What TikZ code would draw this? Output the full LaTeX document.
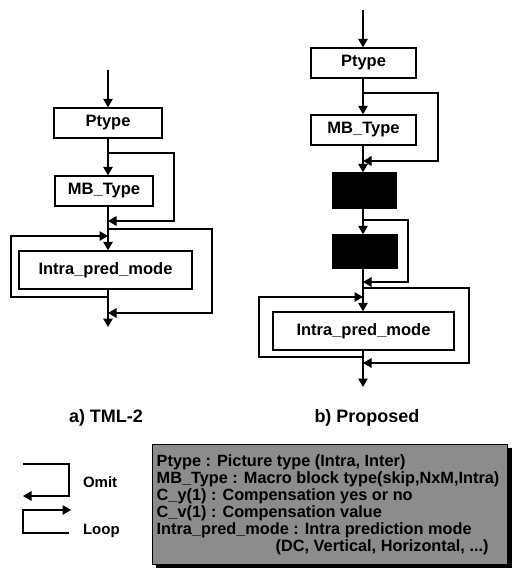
\documentclass[tikz,border=0pt]{standalone}
\usepackage{fontspec}
\setmainfont{Liberation Sans}
\usetikzlibrary{arrows.meta}
\begin{document}
\begin{tikzpicture}[x=1pt,y=-1pt,
  line width=1.4pt,
  arr/.style={-{Triangle[length=8.5pt,width=9.5pt]}},
  blk/.style={draw, line width=1.4pt, inner sep=0pt, font=\bfseries\fontsize{16.5}{18}\selectfont},
  dark/.style={blk, fill=black},
  captxt/.style={font=\bfseries\fontsize{18}{20}\selectfont},
  leg/.style={font=\bfseries\fontsize{15}{17}\selectfont, anchor=west},
  ltxt/.style={font=\bfseries\fontsize{16.3}{17}\selectfont, anchor=west, inner sep=0pt}
]
\useasboundingbox (0,0) rectangle (513,568);

% ---------------- a) TML-2 ----------------
\node[blk, minimum width=108, minimum height=30] (aP) at (108,123) {Ptype};
\node[blk, minimum width=98, minimum height=30] (aM) at (104,191) {MB\_Type};
\node[blk, minimum width=173, minimum height=38] (aI) at (105.5,270) {Intra\_pred\_mode};

\coordinate (aTop) at (108,70);
\coordinate (aBot) at (108,327);
\draw[arr] (aTop) -- (aTop |- aP.north);
\draw[arr] (aTop |- aP.south) -- (aTop |- aM.north);
\draw[arr] (aTop |- aM.south) -- (aTop |- aI.north);
\draw[arr] (aTop |- aI.south) -- (aBot);

% omit around MB_Type
\coordinate (ao1s) at (108,153);
\coordinate (ao1r) at (174,153);
\coordinate (ao1e) at (108,221);
\draw[arr] (ao1s) -- (ao1r) |- (ao1e);
% omit around Intra_pred_mode
\coordinate (ao2s) at (108,229);
\coordinate (ao2r) at (212,229);
\coordinate (ao2e) at (108,313);
\draw[arr] (ao2s) -- (ao2r) |- (ao2e);
% loop around Intra_pred_mode
\coordinate (als) at (108,297);
\coordinate (all) at (11,297);
\coordinate (ale) at (108,236);
\draw[arr] (als) -- (all) |- (ale);

\node[captxt] (capA) at (106,418) {a) TML-2};

% ---------------- b) Proposed ----------------
\node[blk, minimum width=105, minimum height=30] (bP) at (363.5,63) {Ptype};
\node[blk, minimum width=105, minimum height=30] (bM) at (363.5,130) {MB\_Type};
\node[dark, minimum width=63, minimum height=35] (bC1) at (364.5,190.5) {};
\node[dark, minimum width=64, minimum height=33] (bC2) at (365,251.5) {};
\node[blk, minimum width=181, minimum height=38] (bI) at (363.5,331) {Intra\_pred\_mode};

\coordinate (bTop) at (363,10);
\coordinate (bBot) at (363,387);
\draw[arr] (bTop) -- (bTop |- bP.north);
\draw[arr] (bTop |- bP.south) -- (bTop |- bM.north);
\draw[arr] (bTop |- bM.south) -- (bTop |- bC1.north);
\draw[arr] (bTop |- bC1.south) -- (bTop |- bC2.north);
\draw[arr] (bTop |- bC2.south) -- (bTop |- bI.north);
\draw[arr] (bTop |- bI.south) -- (bBot);

\coordinate (bo1s) at (363,93);
\coordinate (bo1r) at (438,93);
\coordinate (bo1e) at (363,161);
\draw[arr] (bo1s) -- (bo1r) |- (bo1e);
\coordinate (bo2s) at (363,220);
\coordinate (bo2r) at (408,220);
\coordinate (bo2e) at (363,282);
\draw[arr] (bo2s) -- (bo2r) |- (bo2e);
\coordinate (bo3s) at (363,288);
\coordinate (bo3r) at (469,288);
\coordinate (bo3e) at (363,363);
\draw[arr] (bo3s) -- (bo3r) |- (bo3e);
\coordinate (bls) at (363,357);
\coordinate (bll) at (259,357);
\coordinate (ble) at (363,297);
\draw[arr] (bls) -- (bll) |- (ble);

\node[captxt] (capB) at (367,418) {b) Proposed};

% ---------------- legend ----------------
\coordinate (lo1) at (23,464);
\coordinate (lo2) at (69,464);
\coordinate (lo3) at (23,496);
\draw[arr] (lo1) -- (lo2) |- (lo3);
\node[leg] (tOmit) at (79,482) {Omit};

\coordinate (ll1) at (69,533);
\coordinate (ll2) at (23,533);
\coordinate (ll3) at (71,510);
\draw[arr] (ll1) -- (ll2) |- (ll3);
\node[leg] (tLoop) at (79,531) {Loop};

\fill[black] (156,448) rectangle (512,568);
\node[draw, line width=1.2pt, fill=black!45, minimum width=355, minimum height=120, anchor=north west, inner sep=0pt] (legbox) at (152,444) {};
\node[ltxt] (l1) at (156,462) {Ptype : Picture type (Intra, Inter)};
\node[ltxt] (l2) at (156,479) {MB\_Type : Macro block type(skip,NxM,Intra)};
\node[ltxt] (l3) at (156,496) {C\_y(1) : Compensation yes or no};
\node[ltxt] (l4) at (156,513) {C\_v(1) : Compensation value};
\node[ltxt] (l5) at (156,530) {Intra\_pred\_mode : Intra prediction mode};
\node[ltxt] (l6) at (275,547) {(DC, Vertical, Horizontal, ...)};
\end{tikzpicture}
\end{document}
